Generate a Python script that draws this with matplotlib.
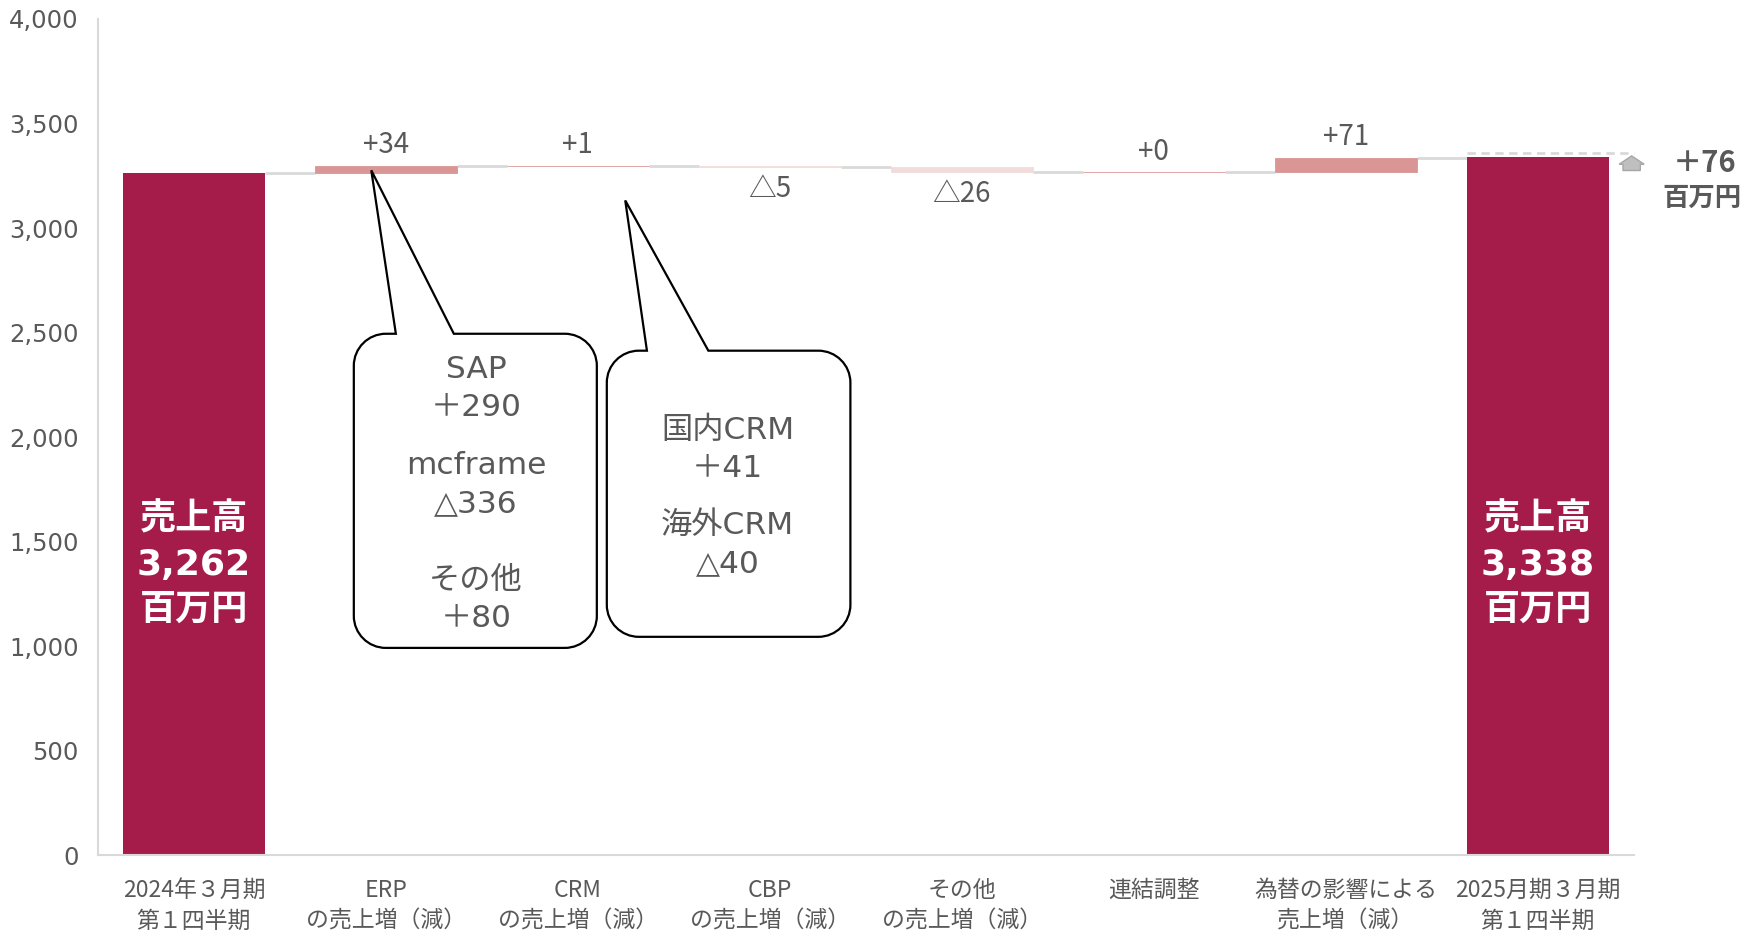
# Waterfall chart of quarterly sales (2024 Q1 -> 2025 Q1), million yen

import numpy as np
import matplotlib
matplotlib.use("Agg")
import matplotlib.pyplot as plt
from matplotlib.path import Path
from matplotlib.patches import PathPatch, Polygon

plt.rcParams['font.family'] = ['DejaVu Sans', 'Noto Sans CJK JP']

# data
categories = ['2024年３月期\n第１四半期', 'ERP\nの売上増（減）', 'CRM\nの売上増（減）',
              'CBP\nの売上増（減）', 'その他\nの売上増（減）', '連結調整',
              '為替の影響による\n売上増（減）', '2025月期３月期\n第１四半期']
start_value = 3262
deltas = [34, 1, -5, -26, 0, 71]
delta_labels = ['+34', '+1', '△5', '△26', '+0', '+71']
end_value = 3338
total_change = '＋76'

bubble1_lines = [('SAP', '＋290'), ('mcframe', '△336'), ('その他', '＋80')]
bubble2_lines = [('国内CRM', '＋41'), ('海外CRM', '△40')]

main_col = '#A51C4A'
up_col = '#D99694'
down_col = '#F2DCDB'
grey_txt = '#595959'
conn_col = '#D9D9D9'

fig = plt.figure(figsize=(17.49, 9.31), dpi=100)
ax = fig.add_axes([0.056, 0.0816, 0.878, 0.898])

x = np.arange(len(categories))
w = 0.74

# total bars
ax.bar([x[0], x[-1]], [start_value, end_value], width=w, color=main_col, zorder=2)

# delta bars
levels = [start_value]
for i, d in enumerate(deltas):
    prev = levels[-1]
    lo = min(prev, prev + d)
    col = up_col if d >= 0 else down_col
    ax.bar(x[i + 1], abs(d), bottom=lo, width=w, color=col,
           edgecolor=col, linewidth=0.6, zorder=2)
    levels.append(prev + d)
    if d >= 0:
        ax.text(x[i + 1], prev + d + 100, delta_labels[i], ha='center', va='center',
                fontsize=20, color=grey_txt, family=['Noto Sans CJK JP'])
    else:
        ax.text(x[i + 1], prev + d - 105, delta_labels[i], ha='center', va='center',
                fontsize=20, color=grey_txt, family=['Noto Sans CJK JP'])

# connectors between bars
for i in range(len(categories) - 1):
    ax.plot([x[i] + w / 2, x[i + 1] - w / 2], [levels[i], levels[i]],
            color=conn_col, lw=2, zorder=1, solid_capstyle='butt')

# labels inside total bars
for xi, v in [(x[0], start_value), (x[-1], end_value)]:
    ax.text(xi, 1390, '売上高\n{:,}\n百万円'.format(v), ha='center', va='center',
            color='white', fontsize=26, fontweight='bold', linespacing=1.4, zorder=3)

# total change marker on the right
ax.plot([x[-1] - w / 2, 7.5], [end_value + 22, end_value + 22], color=conn_col,
        lw=2, ls=(0, (3, 2)), zorder=3, clip_on=False)
ax.add_patch(Polygon([(7.445, 3275), (7.535, 3275), (7.535, 3305), (7.555, 3305),
                      (7.49, 3345), (7.425, 3305), (7.445, 3305)], closed=True,
                     facecolor='#BFBFBF', edgecolor='#A6A6A6', lw=1, clip_on=False,
                     zorder=3))
ax.text(7.87, 3310, total_change, ha='center', va='center', fontsize=21,
        fontweight='bold', color=grey_txt, family=['Noto Sans CJK JP'], clip_on=False)
ax.text(7.855, 3140, '百万円', ha='center', va='center', fontsize=19,
        fontweight='bold', color=grey_txt, family=['Noto Sans CJK JP'], clip_on=False)


def bubble_path(x0, x1, y0, y1, rx, ry, xa, xtip, ytip, xb):
    k = 0.5523
    verts = [(x0 + rx, y1), (xa, y1), (xtip, ytip), (xb, y1), (x1 - rx, y1),
             (x1 - rx + k * rx, y1), (x1, y1 - ry + k * ry), (x1, y1 - ry),
             (x1, y0 + ry),
             (x1, y0 + ry - k * ry), (x1 - rx + k * rx, y0), (x1 - rx, y0),
             (x0 + rx, y0),
             (x0 + rx - k * rx, y0), (x0, y0 + ry - k * ry), (x0, y0 + ry),
             (x0, y1 - ry),
             (x0, y1 - ry + k * ry), (x0 + rx - k * rx, y1), (x0 + rx, y1),
             (x0 + rx, y1)]
    codes = [Path.MOVETO, Path.LINETO, Path.LINETO, Path.LINETO, Path.LINETO,
             Path.CURVE4, Path.CURVE4, Path.CURVE4,
             Path.LINETO,
             Path.CURVE4, Path.CURVE4, Path.CURVE4,
             Path.LINETO,
             Path.CURVE4, Path.CURVE4, Path.CURVE4,
             Path.LINETO,
             Path.CURVE4, Path.CURVE4, Path.CURVE4,
             Path.CLOSEPOLY]
    return Path(verts, codes)


rx, ry = 0.167, 153
b1 = bubble_path(0.833, 2.099, 991, 2494, rx, ry, 1.052, 0.924, 3276, 1.354)
b2 = bubble_path(2.151, 3.42, 1044, 2413, rx, ry, 2.36, 2.247, 3132, 2.68)
for b in (b1, b2):
    ax.add_patch(PathPatch(b, facecolor='white', edgecolor='black', lw=1.6, zorder=4))

for (name, val), yc in zip(bubble1_lines, [2232, 1772, 1222]):
    ax.text(1.47, yc, name + '\n' + val, ha='center', va='center', fontsize=22.5,
            color=grey_txt, linespacing=1.4, zorder=5)
for (name, val), yc in zip(bubble2_lines, [1940, 1486]):
    ax.text(2.78, yc, name + '\n' + val, ha='center', va='center', fontsize=22.5,
            color=grey_txt, linespacing=1.4, zorder=5)

# axes styling
ax.set_xlim(-0.5, 7.5)
ax.set_ylim(0, 4000)
ax.set_yticks(np.arange(0, 4001, 500))
ax.set_yticklabels(['{:,}'.format(v) for v in range(0, 4001, 500)])
ax.set_xticks(x)
ax.set_xticklabels(categories, family=['Noto Sans CJK JP'], fontsize=16.5,
                   linespacing=1.45)
ax.tick_params(axis='y', length=0, pad=14, labelsize=17.5, labelcolor=grey_txt)
ax.tick_params(axis='x', length=0, pad=17, labelcolor=grey_txt)
for s in ['top', 'right']:
    ax.spines[s].set_visible(False)
ax.spines['left'].set_color(conn_col)
ax.spines['bottom'].set_color(conn_col)
ax.spines['left'].set_linewidth(1.5)
ax.spines['bottom'].set_linewidth(1.5)

fig.savefig('out.png', dpi=100)
